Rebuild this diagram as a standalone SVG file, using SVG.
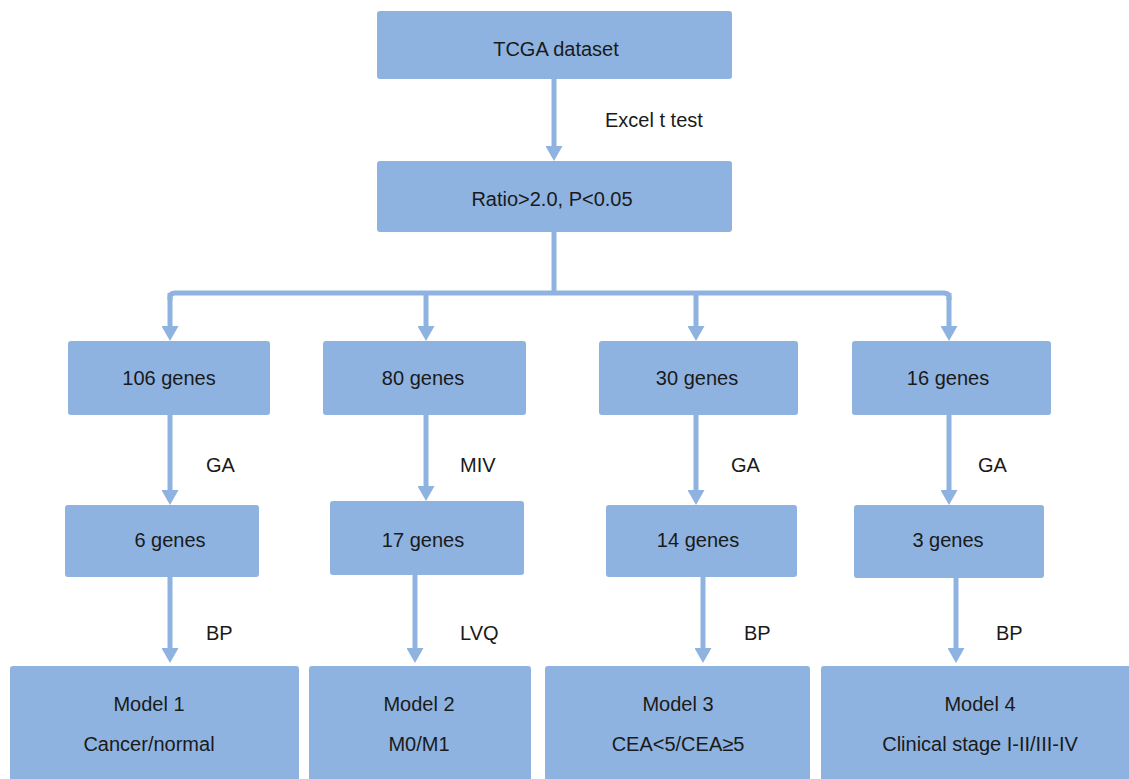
<svg xmlns="http://www.w3.org/2000/svg" width="1129" height="779" viewBox="0 0 1129 779">
<style>
.box{fill:#8EB3E0;}
.t{font-family:"Liberation Sans",Arial,Helvetica,sans-serif;font-size:20px;fill:#1a1a1a;text-anchor:middle;}
.l{font-family:"Liberation Sans",Arial,Helvetica,sans-serif;font-size:20px;fill:#1a1a1a;}
.c{fill:none;stroke:#8EB3E0;stroke-width:5;}
</style>
<defs>
<marker id="ah" markerUnits="userSpaceOnUse" markerWidth="15" markerHeight="17" refX="0" refY="8.5" orient="auto">
<path d="M0,0 L15,8.5 L0,17 z" fill="#8EB3E0"/>
</marker>
</defs>
<rect width="1129" height="779" fill="#ffffff"/>
<g id="connectors">
<path class="c" d="M554,79 V146" marker-end="url(#ah)"/>
<path class="c" d="M554,232 V293"/>
<path class="c" d="M170,300 V297 Q170,293 175,293 H944 Q949,293 949,297 V300"/>
<path class="c" d="M170,293 V326" marker-end="url(#ah)"/>
<path class="c" d="M426,293 V326" marker-end="url(#ah)"/>
<path class="c" d="M696,293 V326" marker-end="url(#ah)"/>
<path class="c" d="M949,293 V326" marker-end="url(#ah)"/>
<path class="c" d="M170,415 V490" marker-end="url(#ah)"/>
<path class="c" d="M426,415 V486" marker-end="url(#ah)"/>
<path class="c" d="M696,415 V490" marker-end="url(#ah)"/>
<path class="c" d="M949,415 V490" marker-end="url(#ah)"/>
<path class="c" d="M170,577 V648" marker-end="url(#ah)"/>
<path class="c" d="M415,575 V648" marker-end="url(#ah)"/>
<path class="c" d="M703,577 V648" marker-end="url(#ah)"/>
<path class="c" d="M956,578 V648" marker-end="url(#ah)"/>
<text class="l" x="605" y="127">Excel t test</text>
<text class="l" x="206" y="472">GA</text>
<text class="l" x="460" y="472">MIV</text>
<text class="l" x="731" y="472">GA</text>
<text class="l" x="978" y="472">GA</text>
<text class="l" x="206" y="640">BP</text>
<text class="l" x="460" y="640">LVQ</text>
<text class="l" x="744" y="640">BP</text>
<text class="l" x="996" y="640">BP</text>
</g>
<g id="tcga"><rect class="box" x="377" y="11" width="355" height="68" rx="3"/><text class="t" x="556" y="56">TCGA dataset</text></g>
<g id="ratio"><rect class="box" x="377" y="161" width="355" height="71" rx="3"/><text class="t" x="552" y="206">Ratio&gt;2.0, P&lt;0.05</text></g>
<g id="g106"><rect class="box" x="68" y="341" width="202" height="74" rx="3"/><text class="t" x="169" y="385">106 genes</text></g>
<g id="g80"><rect class="box" x="323" y="341" width="203" height="74" rx="3"/><text class="t" x="423" y="385">80 genes</text></g>
<g id="g30"><rect class="box" x="599" y="341" width="199" height="74" rx="3"/><text class="t" x="697" y="385">30 genes</text></g>
<g id="g16"><rect class="box" x="852" y="341" width="199" height="74" rx="3"/><text class="t" x="948" y="385">16 genes</text></g>
<g id="g6"><rect class="box" x="65" y="505" width="194" height="72" rx="3"/><text class="t" x="170" y="547">6 genes</text></g>
<g id="g17"><rect class="box" x="330" y="501" width="194" height="74" rx="3"/><text class="t" x="423" y="547">17 genes</text></g>
<g id="g14"><rect class="box" x="606" y="505" width="191" height="72" rx="3"/><text class="t" x="698" y="547">14 genes</text></g>
<g id="g3"><rect class="box" x="854" y="505" width="190" height="73" rx="3"/><text class="t" x="948" y="547">3 genes</text></g>
<g id="m1"><rect class="box" x="10" y="666" width="289" height="120" rx="3"/><text class="t" x="149" y="711">Model 1</text><text class="t" x="149" y="751">Cancer/normal</text></g>
<g id="m2"><rect class="box" x="309" y="666" width="222" height="120" rx="3"/><text class="t" x="419" y="711">Model 2</text><text class="t" x="419" y="751">M0/M1</text></g>
<g id="m3"><rect class="box" x="545" y="666" width="265" height="120" rx="3"/><text class="t" x="678" y="711">Model 3</text><text class="t" x="678" y="751">CEA&lt;5/CEA≥5</text></g>
<g id="m4"><rect class="box" x="821" y="666" width="315" height="120" rx="3"/><text class="t" x="980" y="711">Model 4</text><text class="t" x="980" y="751">Clinical stage I-II/III-IV</text></g>
</svg>
